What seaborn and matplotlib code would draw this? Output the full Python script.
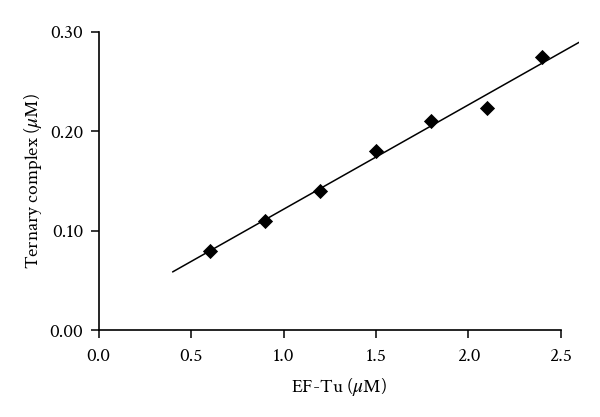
import numpy as np
import pandas as pd
import matplotlib
matplotlib.use("Agg")
import matplotlib.pyplot as plt
import seaborn as sns

# data
ef_tu = [0.6, 0.9, 1.2, 1.5, 1.8, 2.1, 2.4]
ternary = [0.080, 0.110, 0.140, 0.180, 0.210, 0.223, 0.275]
fit_range = [0.4, 2.6]
x_ticks = [0.0, 0.5, 1.0, 1.5, 2.0, 2.5]
y_ticks = [0.00, 0.10, 0.20, 0.30]

sns.set_theme(style="ticks")
plt.rcParams['font.family'] = ['Crimson Text', 'Liberation Serif', 'DejaVu Serif']
plt.rcParams['mathtext.fontset'] = 'stix'

FS = 14

fig = plt.figure(figsize=(6.0, 4.17), dpi=100)
ax = fig.add_axes([0.1645, 0.208, 0.9653 - 0.1645, 0.924 - 0.208])

df = pd.DataFrame({"x": ef_tu, "y": ternary})
slope, intercept = np.polyfit(ef_tu, ternary, 1)
fx = np.array(fit_range)
fit_df = pd.DataFrame({"x": fx, "y": slope * fx + intercept})

sns.lineplot(data=fit_df, x="x", y="y", ax=ax, color="black", linewidth=1.1)
sns.scatterplot(data=df, x="x", y="y", ax=ax, marker="D", s=60,
                color="black", edgecolor="black", linewidth=0, zorder=3)

ax.set_xlim(0, 2.6)
ax.set_ylim(0, 0.30)
ax.set_xticks(x_ticks)
ax.set_yticks(y_ticks)
ax.set_xticklabels([f"{v:.1f}" for v in x_ticks])
ax.set_yticklabels([f"{v:.2f}" for v in y_ticks])
ax.spines['bottom'].set_bounds(0, 2.5)
for s in ['top', 'right']:
    ax.spines[s].set_visible(False)
for s in ['left', 'bottom']:
    ax.spines[s].set_linewidth(1.2)
    ax.spines[s].set_color('black')
ax.tick_params(axis='both', direction='out', length=6, width=1.1,
               colors='black', labelsize=FS)
ax.tick_params(axis='x', pad=7)
ax.tick_params(axis='y', pad=5)
ax.set_xlabel(r"EF-Tu ($\mu$M)", fontsize=FS, color='black', labelpad=8)
ax.set_ylabel(r"Ternary complex ($\mu$M)", fontsize=FS, color='black', labelpad=4)

fig.savefig("out.png", dpi=100)
